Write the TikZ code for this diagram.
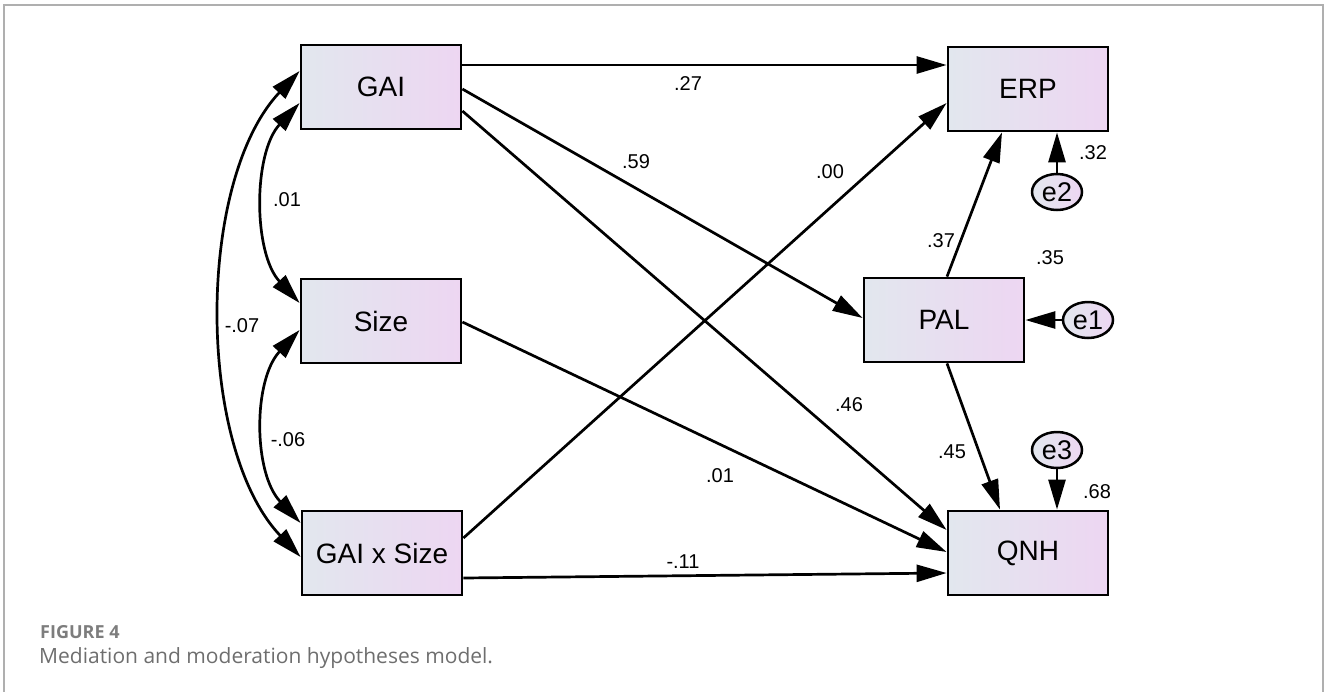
\documentclass[tikz,border=0pt]{standalone}
\usepackage{fontspec}
\setmainfont{Liberation Sans}
\newfontfamily\capfont{Open Sans}
\usetikzlibrary{arrows.meta,calc,shapes.geometric}
\definecolor{boxL}{RGB}{226,231,238}
\definecolor{boxR}{RGB}{237,214,242}
\definecolor{frameC}{RGB}{175,175,175}
\definecolor{capC}{RGB}{110,110,110}
\definecolor{figC}{RGB}{125,125,125}
\tikzset{
  var/.style={draw=black, line width=2.8pt, left color=boxL, right color=boxR,
    minimum width=160pt, minimum height=84pt, inner sep=0pt,
    font=\fontsize{28}{32}\selectfont},
  err/.style={ellipse, draw=black, line width=2.5pt, left color=boxL, right color=boxR,
    minimum width=50pt, minimum height=36pt, inner sep=0pt,
    font=\fontsize{27}{30}\selectfont},
  path/.style={line width=2.7pt, -{Triangle[length=30pt,width=17pt]}},
  cov/.style={line width=2.7pt, {Triangle[length=30pt,width=17pt]}-{Triangle[length=30pt,width=17pt]}},
  lab/.style={font=\fontsize{20}{23}\selectfont, inner sep=0pt},
}
\begin{document}
\begin{tikzpicture}[x=1pt,y=-1pt]
\useasboundingbox (0,0) rectangle (1328,691);
\draw[frameC, line width=1.6pt] (4,700) -- (4,5) -- (1323,5) -- (1323,700);

% boxes
\node[var] (GAI)  at (381,87)    {GAI};
\node[var] (Size) at (381,321)   {Size};
\node[var] (GxS)  at (382,553)   {GAI x Size};
\node[var] (ERP)  at (1028,89)   {ERP};
\node[var] (PAL)  at (944,320) {PAL};
\node[var] (QNH)  at (1028,553)  {QNH};

% error terms
\node[err] (e2) at (1057,192) {e2};
\node[err] (e1) at (1088,320) {e1};
\node[err] (e3) at (1057,450) {e3};

% straight paths
\draw[path] ($(GAI.east)+(0,-22)$) -- ($(ERP.west)+(0,-24)$);
\draw[path] ($(GAI.east)+(0,2)$) -- ($(PAL.west)+(0,-2)$);
\draw[path] ($(GAI.east)+(0,24)$) -- ($(QNH.west)+(0,-23)$);
\draw[path] ($(Size.east)+(0,1)$) -- ($(QNH.west)+(0,-1)$);
\draw[path] ($(GxS.east)+(0,-15)$) -- ($(ERP.west)+(0,14)$);
\draw[path] ($(GxS.east)+(0,25)$) -- ($(QNH.west)+(0,20)$);
\draw[path] ($(PAL.north)+(3,0)$) -- ($(ERP.south)+(-26,0)$);
\draw[path] ($(PAL.south)+(3,0)$) -- ($(QNH.north)+(-28,0)$);
\draw[path] (e2.north) -- ($(ERP.south)+(29,0)$);
\draw[path] (e1.west) -- (PAL.east);
\draw[path] (e3.south) -- ($(QNH.north)+(29,0)$);

% covariances
\draw[cov] ($(GAI.west)+(0,16)$) .. controls (253,153) and (253,253) .. ($(Size.west)+(0,-18)$);
\draw[cov] ($(Size.west)+(0,9)$) .. controls (253,380) and (253,473) .. ($(GxS.west)+(0,-30)$);
\draw[cov] ($(GAI.west)+(0,-16)$) .. controls (196,181) and (196,447) .. ($(GxS.west)+(0,4)$);

% labels
\node[lab] (l27) at (688,84) {.27};
\node[lab] (l59) at (636,162) {.59};
\node[lab] (l00) at (830,172) {.00};
\node[lab] (l01a) at (287,200) {.01};
\node[lab] (l37) at (941,241) {.37};
\node[lab] (l35) at (1050,258) {.35};
\node[lab] (l07) at (242,326) {-.07};
\node[lab] (l46) at (849,405) {.46};
\node[lab] (l06) at (288,440) {-.06};
\node[lab] (l01b) at (720,476) {.01};
\node[lab] (l45) at (952,452) {.45};
\node[lab] (l68) at (1097,492) {.68};
\node[lab] (l32) at (1093,153) {.32};
\node[lab] (l11) at (683,562) {-.11};

% caption
\node[anchor=base west, inner sep=0pt, text=figC, font=\capfont\bfseries\fontsize{18}{20}\selectfont] (fig) at (40,638) {FIGURE 4};
\node[anchor=base west, inner sep=0pt, text=capC, font=\capfont\fontsize{21}{24}\selectfont] (cap) at (39,663) {Mediation and moderation hypotheses model.};
\end{tikzpicture}
\end{document}
